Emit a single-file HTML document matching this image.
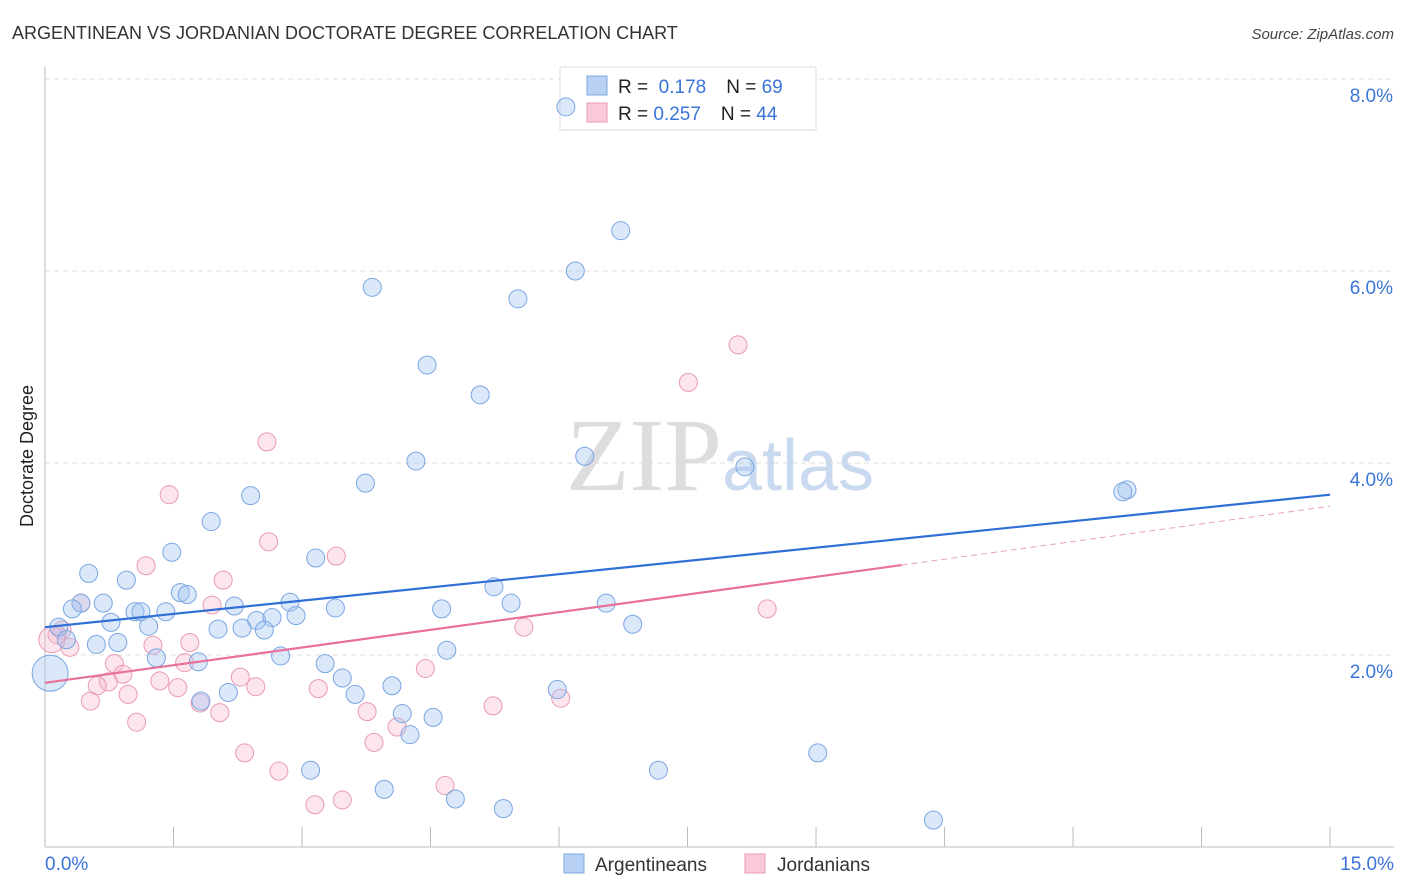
<!DOCTYPE html>
<html><head><meta charset="utf-8">
<style>
body{margin:0;background:#fff;font-family:"Liberation Sans",sans-serif;}
svg{display:block}
</style></head>
<body>
<svg id="chart" width="1406" height="892" xmlns="http://www.w3.org/2000/svg">
<text x="12" y="39" font-size="18" fill="#333" font-family="Liberation Sans">ARGENTINEAN VS JORDANIAN DOCTORATE DEGREE CORRELATION CHART</text>
<text x="1394" y="39" font-size="15" fill="#444" text-anchor="end" font-style="italic">Source: ZipAtlas.com</text>
<text x="720" y="490" font-size="104" text-anchor="middle" fill="#ddd" font-family="Liberation Serif">ZIP<tspan fill="#c9daf0" font-family="Liberation Sans" font-size="72">atlas</tspan></text>
<g id="grid"></g>
<g id="axes"></g>
<g>
<rect x="560" y="67" width="256" height="63" fill="#fff" stroke="#ddd"/>
<rect x="587" y="76" width="20" height="19" fill="#b7d0f3" stroke="#7fa8e0"/>
<rect x="587" y="103" width="20" height="19" fill="#f9c9d7" stroke="#e89ab5"/>
<text x="618" y="93" font-size="19" fill="#222">R = <tspan fill="#3b74d8">&#160;0.178</tspan><tspan dx="20">N = </tspan><tspan fill="#3b74d8">69</tspan></text>
<text x="618" y="120" font-size="19" fill="#222">R = <tspan fill="#3b74d8">0.257</tspan><tspan dx="20">N = </tspan><tspan fill="#3b74d8">44</tspan></text>
</g>
<g id="pink"></g>
<g id="blue"></g>
<g id="lines"></g>
<text transform="translate(33,456) rotate(-90)" font-size="18" fill="#222" text-anchor="middle">Doctorate Degree</text>
<g>
<rect x="564" y="854" width="20" height="19" fill="#b7d0f3" stroke="#7fa8e0"/>
<text x="595" y="871" font-size="19" fill="#333">Argentineans</text>
<rect x="745" y="854" width="20" height="19" fill="#f9c9d7" stroke="#e89ab5"/>
<text x="777" y="871" font-size="19" fill="#333">Jordanians</text>
</g>
</svg>
<script>
const blueX=[6.08,6.72,6.19,3.82,5.52,4.46,5.08,4.33,6.30,8.17,12.63,12.58,3.74,2.40,1.94,1.48,3.16,0.51,0.95,1.58,1.66,0.68,0.42,0.32,1.05,1.12,1.41,2.21,2.86,3.39,4.63,5.24,5.44,6.55,6.86,0.77,1.21,2.47,2.65,2.93,2.02,2.30,2.56,0.16,0.25,0.60,0.85,1.30,1.79,2.75,3.27,4.69,3.47,3.62,4.05,2.14,1.82,5.98,4.17,4.53,4.26,3.10,7.16,9.02,3.96,4.79,5.35,10.37,0.06];
const blueY=[7.71,6.42,6.00,5.83,5.71,5.02,4.71,4.02,4.07,3.96,3.72,3.70,3.79,3.66,3.39,3.07,3.01,2.85,2.78,2.65,2.63,2.54,2.54,2.48,2.45,2.45,2.45,2.51,2.55,2.49,2.48,2.71,2.54,2.54,2.32,2.34,2.30,2.36,2.39,2.41,2.27,2.28,2.26,2.29,2.16,2.11,2.13,1.97,1.93,1.99,1.91,2.05,1.76,1.59,1.68,1.61,1.52,1.64,1.39,1.35,1.17,0.80,0.80,0.98,0.60,0.50,0.40,0.28,1.81];
const pinkX=[8.09,7.51,2.59,1.45,2.61,3.40,1.18,2.08,0.42,1.95,0.20,0.14,0.29,1.69,1.26,8.43,5.59,0.81,0.91,1.63,0.74,0.61,1.34,1.55,2.28,2.46,3.19,4.44,0.97,0.53,1.81,2.04,1.07,3.76,4.11,5.23,6.02,3.84,2.33,2.73,4.67,3.47,3.15,0.08];
const pinkY=[5.23,4.84,4.22,3.67,3.18,3.03,2.93,2.78,2.54,2.52,2.26,2.21,2.08,2.13,2.10,2.48,2.29,1.91,1.80,1.92,1.72,1.68,1.73,1.66,1.77,1.67,1.65,1.86,1.59,1.52,1.50,1.40,1.30,1.41,1.25,1.47,1.55,1.09,0.98,0.79,0.64,0.49,0.44,2.16];
const yTicks=[2,4,6,8];
const yTickLabels=["2.0%","4.0%","6.0%","8.0%"];
const xTickVals=[0,1.5,3,4.5,6,7.5,9,10.5,12,13.5,15];
const blueTrend=[2.29,3.67];
const pinkTrend=[1.71,3.55];
const pinkSolidEnd=10;

const NS="http://www.w3.org/2000/svg";
const X=v=>45+v*85.67, Y=v=>847-v*96;
function mk(tag,attrs,parent){const e=document.createElementNS(NS,tag);for(const k in attrs)e.setAttribute(k,attrs[k]);parent.appendChild(e);return e;}
const grid=document.getElementById('grid'),axes=document.getElementById('axes');
yTicks.forEach((t,i)=>{
  const l=mk('line',{x1:45,x2:1394,y1:Y(t),y2:Y(t),stroke:'#ddd','stroke-dasharray':'5,4'},grid);
  
  
  const tx=mk('text',{x:1393,y:Y(t)+23,'font-size':19,fill:'#3b74d8','text-anchor':'end'},axes);
  tx.textContent=yTickLabels[i];
  
  
});
mk('line',{x1:45,x2:45,y1:67,y2:847,stroke:'#bbb'},axes);
mk('line',{x1:45,x2:1394,y1:847,y2:847,stroke:'#bbb'},axes);
xTickVals.forEach(t=>{const l=mk('line',{x1:X(t),x2:X(t),y1:827,y2:847,stroke:'#bbb'},axes);
  
  });
let t0=mk('text',{x:45,y:870,'font-size':19,fill:'#3b74d8'},axes);t0.textContent="0.0%";


let t1=mk('text',{x:1394,y:870,'font-size':19,fill:'#3b74d8','text-anchor':'end'},axes);t1.textContent="15.0%";



function pts(xs,ys,g,fill,stroke,name){
  xs.forEach((x,i)=>{const r=(i===xs.length-1)?(name==='argentinean-point'?18:13):9;
    const c=mk('circle',{cx:X(x),cy:Y(ys[i]),r:r,fill:fill,stroke:stroke,'stroke-width':1},g);
    
    });
}
pts(pinkX,pinkY,document.getElementById('pink'),'rgba(247,180,202,0.35)','#e89ab5','jordanian-point');
pts(blueX,blueY,document.getElementById('blue'),'rgba(165,198,240,0.4)','#7aa6e2','argentinean-point');
const lines=document.getElementById('lines');
const bl=mk('line',{x1:X(0),y1:Y(blueTrend[0]),x2:X(15),y2:Y(blueTrend[1]),stroke:'#2f6fd6','stroke-width':2.2},lines);


const pAt=v=>pinkTrend[0]+(pinkTrend[1]-pinkTrend[0])*v/15;
const pl=mk('line',{x1:X(0),y1:Y(pAt(0)),x2:X(pinkSolidEnd),y2:Y(pAt(pinkSolidEnd)),stroke:'#e8709a','stroke-width':2.2},lines);


const pd=mk('line',{x1:X(pinkSolidEnd),y1:Y(pAt(pinkSolidEnd)),x2:X(15),y2:Y(pAt(15)),stroke:'#e8a0b8','stroke-width':1,'stroke-dasharray':'6,4'},lines);


</script>
</body></html>
